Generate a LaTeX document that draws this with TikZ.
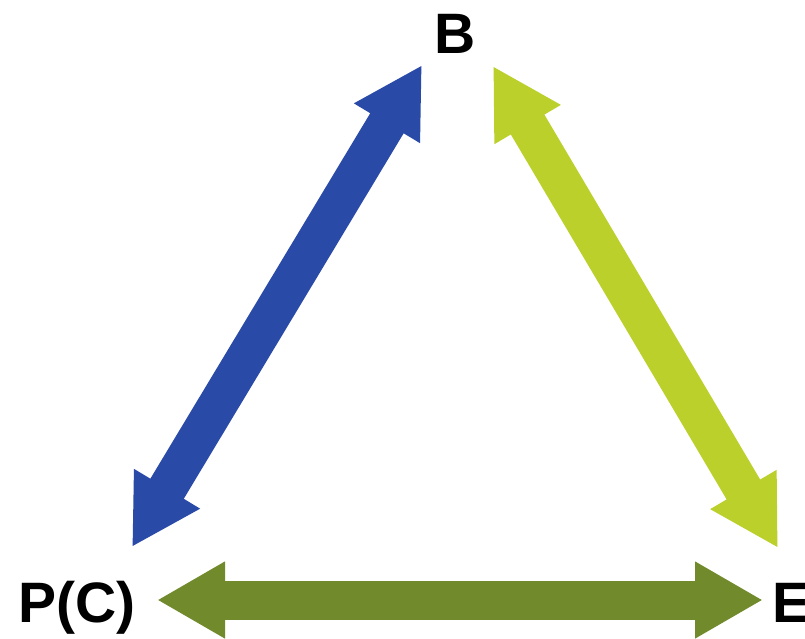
\documentclass[tikz,border=0pt]{standalone}
\usepackage{fontspec}
\setmainfont{Liberation Sans}
\usetikzlibrary{arrows.meta}

\definecolor{arrblue}{RGB}{42,74,168}
\definecolor{arrlime}{RGB}{188,208,44}
\definecolor{arrolive}{RGB}{112,138,44}

\begin{document}
\begin{tikzpicture}[x=1pt, y=-1pt,
        lbl/.style={inner sep=0pt, anchor=base, font=\fontsize{57}{60}\selectfont\bfseries},
        fat/.style={line width=39pt, {Triangle[length=68pt,width=72pt]}-{Triangle[length=68pt,width=72pt]}}]
            \useasboundingbox (0, 0) rectangle (805, 638);
            \node[lbl] (b) at (455, 53) {B};
            \node[lbl] (pc) at (77, 622) {P(C)};
            \node[lbl, anchor=base west] (e) at (772, 622) {E};
            \draw[fat, arrblue] ([shift={(55, -75)}]pc.base) -- ([shift={(-33, 12)}]b.base);
            \draw[fat, arrlime] ([shift={(38, 13)}]b.base) -- ([shift={(6, -74)}]e.base west);
            \draw[fat, arrolive] ([shift={(80, -22)}]pc.base) -- ([shift={(-9, -22)}]e.base west);
        \end{tikzpicture}
\end{document}
